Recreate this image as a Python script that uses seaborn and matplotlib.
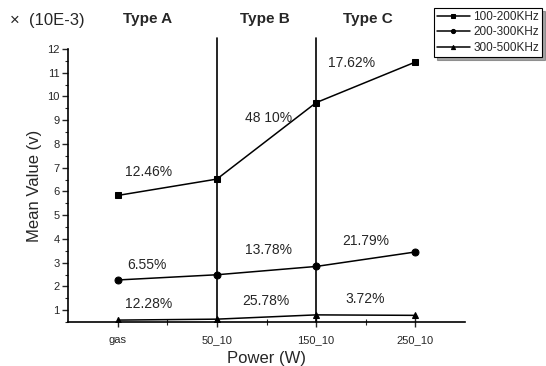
import matplotlib
matplotlib.use("Agg")
import matplotlib.pyplot as plt
from matplotlib.ticker import MultipleLocator, FixedLocator
import seaborn as sns
import pandas as pd

categories = ["gas", "50_10", "150_10", "250_10"]
series_names = ["100-200KHz", "200-300KHz", "300-500KHz"]
s1 = [5.83, 6.52, 9.74, 11.45]
s2 = [2.27, 2.49, 2.84, 3.45]
s3 = [0.58, 0.62, 0.80, 0.78]
type_labels = ["Type A", "Type B", "Type C"]
pct_labels = [("12.46%", 0.31, 6.8), ("48 10%", 1.52, 9.1), ("17.62%", 2.36, 11.4),
              ("6.55%", 0.30, 2.9), ("13.78%", 1.52, 3.55), ("21.79%", 2.5, 3.9),
              ("12.28%", 0.31, 1.25), ("25.78%", 1.49, 1.4), ("3.72%", 2.49, 1.45)]

rows = []
for name, vals in zip(series_names, [s1, s2, s3]):
    for c, v in zip(categories, vals):
        rows.append({"Power": c, "value": v, "series": name})
df = pd.DataFrame(rows)

sns.set_theme(style="white")
plt.rcParams['font.family'] = ['Liberation Sans', 'DejaVu Sans']

fig = plt.figure(figsize=(5.46, 3.66), dpi=100)
ax = fig.add_axes([68/546, 1-322/366, (465-68)/546, (322-49)/366])

sns.lineplot(data=df, x="Power", y="value", hue="series", style="series",
             markers={"100-200KHz": "s", "200-300KHz": "o", "300-500KHz": "^"},
             dashes=False, palette=["black"]*3, markersize=5, linewidth=1.1,
             markeredgecolor="black", ax=ax, sort=False)

ax.set_xlim(-0.5, 3.5)
ax.set_ylim(0.5, 12)
for xv in [1, 2]:
    ax.plot([xv, xv], [0.5, 12.45], color="black", lw=1.2, clip_on=False, zorder=1)

for s in ["top", "right"]:
    ax.spines[s].set_visible(False)
for s in ["left", "bottom"]:
    ax.spines[s].set_color("black")
    ax.spines[s].set_linewidth(1.2)

ax.yaxis.set_major_locator(FixedLocator(range(1, 13)))
ax.yaxis.set_minor_locator(MultipleLocator(0.5))
ax.xaxis.set_minor_locator(FixedLocator([0.5, 1.5, 2.5]))
ax.tick_params(axis="y", which="major", left=True, direction="out", length=4, width=1, labelsize=8, pad=2)
ax.tick_params(axis="y", which="minor", left=True, direction="out", length=2, width=0.8)
ax.tick_params(axis="x", which="major", bottom=True, direction="inout", length=7, width=1, labelsize=8, pad=6)
ax.tick_params(axis="x", which="minor", bottom=True, direction="inout", length=4, width=0.8)

ax.set_xlabel("Power (W)", fontsize=12, labelpad=4)
ax.set_ylabel("Mean Value (v)", fontsize=12, labelpad=4)

for t, xv, yv in pct_labels:
    ax.text(xv, yv, t, ha="center", va="center", fontsize=10)

for t, xp in zip(type_labels, [148, 265, 368]):
    fig.text(xp/546, 1-19/366, t, ha="center", va="center", fontsize=11, fontweight="bold")
fig.text(10/546, 1-21/366, "×  (10E-3)", ha="left", va="center", fontsize=12)

leg = ax.legend(loc="upper right", bbox_to_anchor=(542/546, 1-8/366), bbox_transform=fig.transFigure,
                fontsize=8.5, frameon=True, fancybox=False, shadow=True, handlelength=2.8,
                markerscale=0.6, borderpad=0.25, labelspacing=0.3, handletextpad=0.3,
                borderaxespad=0, title=None)
leg.get_frame().set_edgecolor("black")
leg.get_frame().set_linewidth(0.8)

fig.savefig("out.png", dpi=100)
